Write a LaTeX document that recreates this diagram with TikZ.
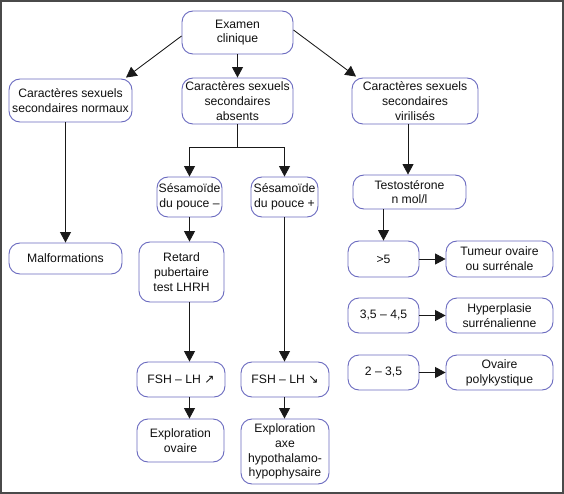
\documentclass[tikz,border=0pt]{standalone}
\usepackage{fontspec}
\setmainfont{Liberation Sans}
\newfontfamily\arrfont{DejaVu Sans}
\usetikzlibrary{arrows.meta}
\definecolor{bx}{HTML}{6A6AC0}
\definecolor{frm}{HTML}{4A4A4A}
\definecolor{txt}{HTML}{111111}
\begin{document}
\begin{tikzpicture}[x=1pt,y=-1pt,
  box/.style={draw=bx, line width=0.9pt, rounded corners=11pt, align=center,
    inner sep=0pt, text=txt, font=\fontsize{12.2}{14.8}\selectfont},
  arr/.style={draw=black!90, line width=0.85pt, -{Triangle[length=10.5pt,width=11pt]}},
  ln/.style={draw=black!90, line width=0.85pt}]
\useasboundingbox (0,0) rectangle (564,494);
\fill[white] (0,0) rectangle (564,494);
\draw[frm, line width=1.7pt] (0.85,0.85) rectangle (563.15,493.15);

\node[box, minimum width=111pt, minimum height=43pt] (examen) at (237.5,32.5) {Examen\\clinique};
\node[box, minimum width=123pt, minimum height=43pt] (normaux) at (70.5,100.5) {Caractères sexuels\\secondaires normaux};
\node[box, minimum width=111pt, minimum height=46pt] (absents) at (237.5,101) {Caractères sexuels\\secondaires\\absents};
\node[box, minimum width=126pt, minimum height=46pt] (viril) at (415,101) {Caractères sexuels\\secondaires\\virilisés};

\node[box, minimum width=65pt, minimum height=40pt] (sesm) at (189.5,197) {Sésamoïde\\du pouce –};
\node[box, minimum width=67pt, minimum height=40pt] (sesp) at (284.5,197) {Sésamoïde\\du pouce +};
\node[box, minimum width=85pt, minimum height=60pt] (retard) at (181.5,272) {Retard\\pubertaire\\test LHRH};
\node[box, minimum width=88pt, minimum height=35pt] (fshm) at (181,379.5) {FSH – LH {\arrfont ↗}};
\node[box, minimum width=88pt, minimum height=35pt] (fshp) at (285,379.5) {FSH – LH {\arrfont ↘}};
\node[box, minimum width=87pt, minimum height=43pt] (explo) at (180.5,440.5) {Exploration\\ovaire};
\node[box, minimum width=88pt, minimum height=65pt] (axe) at (285,451.5) {Exploration\\axe\\hypothalamo-\\hypophysaire};

\node[box, minimum width=113pt, minimum height=31pt] (malf) at (65.5,258.5) {Malformations};

\node[box, minimum width=113pt, minimum height=34pt] (testo) at (409.5,192) {Testostérone\\n mol/l};
\node[box, minimum width=71pt, minimum height=36pt] (g5) at (383.5,259) {>5};
\node[box, minimum width=107pt, minimum height=36pt] (tum) at (499.5,259) {Tumeur ovaire\\ou surrénale};
\node[box, minimum width=71pt, minimum height=35pt] (g35) at (383.5,315.5) {3,5 – 4,5};
\node[box, minimum width=107pt, minimum height=35pt] (hyp) at (499.5,315.5) {Hyperplasie\\surrénalienne};
\node[box, minimum width=71pt, minimum height=35pt] (g2) at (383.5,372.5) {2 – 3,5};
\node[box, minimum width=107pt, minimum height=35pt] (ova) at (499.5,372.5) {Ovaire\\polykystique};

\coordinate (split) at (237.5,147.5);

% connectors
\draw[arr] ([yshift=-3.5pt]examen.west) -- ([xshift=55.5pt,yshift=1pt]normaux.north);
\draw[arr] (examen.south) -- (absents.north);
\draw[arr] ([yshift=2.5pt]examen.east) -- ([xshift=-59pt,yshift=1pt]viril.north);

\draw[ln] (absents.south) -- (split);
\draw[arr] (split) -| (sesm.north);
\draw[arr] (split) -| (sesp.north);

\draw[arr] (sesm.south) -- (retard.north -| sesm.south);
\draw[arr] (retard.south -| sesm.south) -- (fshm.north -| sesm.south);
\draw[arr] (fshm.south -| sesm.south) -- (explo.north -| sesm.south);

\draw[arr] (sesp.south) -- (fshp.north -| sesp.south);
\draw[arr] (fshp.south -| sesp.south) -- (axe.north -| sesp.south);

\draw[arr] (normaux.south -| malf.north) -- (malf.north);

\draw[arr] ([xshift=-1.5pt]viril.south -| testo.north) -- ([xshift=-1.5pt]testo.north);
\draw[arr] (testo.south -| g5.north) -- (g5.north);
\draw[arr] (g5.east) -- (tum.west);
\draw[arr] (g35.east) -- (hyp.west);
\draw[arr] (g2.east) -- (ova.west);
\end{tikzpicture}
\end{document}
